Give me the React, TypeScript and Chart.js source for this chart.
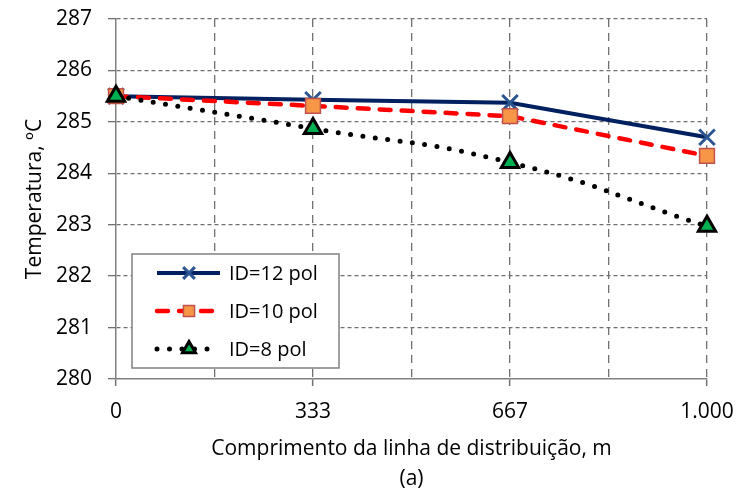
import React, { useEffect, useRef } from 'react';
import { Chart, registerables } from 'chart.js';

Chart.register(...registerables);

// ---- Data ----
const xValues = [0, 333.33, 666.67, 1000];
const id12 = [285.5, 285.43, 285.37, 284.7];
const id10 = [285.5, 285.31, 285.11, 284.34];
const id8 = [285.5, 284.87, 284.21, 282.97];
const seriesNames = ['ID=12 pol', 'ID=10 pol', 'ID=8 pol'];
const xGridValues = [0, 166.67, 333.33, 500, 666.67, 833.33, 1000];
const xTickLabels = ['0', '', '333', '', '667', '', '1.000'];
const yMin = 280;
const yMax = 287;
const xTitle = ['Comprimento da linha de distribuição, m', '(a)'];
const yTitle = 'Temperatura, ºC';

const FONT = "'Open Sans', 'DejaVu Sans', sans-serif";
const GRID = '#707070';
const CLEAR = 'rgba(0,0,0,0)';
const FS = 21;

type Style = {
  line: string;
  width: number;
  dash: number[];
  cap: CanvasLineCap;
  tension: number;
  point: 'crossRot' | 'rect' | 'triangle';
  radius: number;
  pFill: string;
  pStroke: string;
  pWidth: number;
};

const styles: Style[] = [
  { line: '#002060', width: 4, dash: [], cap: 'butt', tension: 0, point: 'crossRot', radius: 11, pFill: '#2a5590', pStroke: '#2a5590', pWidth: 3 },
  { line: '#ff0000', width: 4.5, dash: [11, 11], cap: 'round', tension: 0, point: 'rect', radius: 10.5, pFill: '#f79646', pStroke: '#c0504d', pWidth: 1.5 },
  { line: '#000000', width: 5, dash: [0, 12.5], cap: 'round', tension: 0.5, point: 'triangle', radius: 10, pFill: '#00b050', pStroke: '#000000', pWidth: 3 },
];

const seriesValues = [id12, id10, id8];

function drawMarker(ctx: CanvasRenderingContext2D, s: Style, x: number, y: number, r: number) {
  ctx.save();
  ctx.setLineDash([]);
  ctx.lineWidth = s.pWidth;
  ctx.strokeStyle = s.pStroke;
  ctx.fillStyle = s.pFill;
  ctx.beginPath();
  if (s.point === 'crossRot') {
    const o = r * Math.SQRT1_2;
    ctx.moveTo(x - o, y - o);
    ctx.lineTo(x + o, y + o);
    ctx.moveTo(x + o, y - o);
    ctx.lineTo(x - o, y + o);
    ctx.stroke();
  } else if (s.point === 'rect') {
    const o = r * Math.SQRT1_2;
    ctx.rect(x - o, y - o, 2 * o, 2 * o);
    ctx.fill();
    ctx.stroke();
  } else {
    let a = 0;
    ctx.moveTo(x + Math.sin(a) * r, y - Math.cos(a) * r);
    a += (2 * Math.PI) / 3;
    ctx.lineTo(x + Math.sin(a) * r, y - Math.cos(a) * r);
    a += (2 * Math.PI) / 3;
    ctx.lineTo(x + Math.sin(a) * r, y - Math.cos(a) * r);
    ctx.closePath();
    ctx.fill();
    ctx.stroke();
  }
  ctx.restore();
}

const boxLegend = {
  id: 'boxLegend',
  afterDraw(chart: any) {
    const { ctx, chartArea } = chart;
    const left = chartArea.left + 16;
    const top = chartArea.bottom - 125;
    const w = 207;
    const h = 114;
    ctx.save();
    ctx.fillStyle = '#ffffff';
    ctx.fillRect(left, top, w, h);
    ctx.strokeStyle = '#808080';
    ctx.lineWidth = 1.5;
    ctx.strokeRect(left, top, w, h);
    seriesNames.forEach((name, i) => {
      const s = styles[i];
      const y = top + 19 + i * 38;
      const x0 = left + 25;
      const x1 = i === 2 ? left + 80 : left + 88;
      ctx.save();
      ctx.strokeStyle = s.line;
      ctx.lineWidth = s.width;
      ctx.lineCap = s.cap;
      ctx.setLineDash(s.dash);
      ctx.beginPath();
      ctx.moveTo(x0, y);
      ctx.lineTo(x1, y);
      ctx.stroke();
      ctx.restore();
      drawMarker(ctx, s, left + 57, y, s.radius * 0.75);
      ctx.fillStyle = '#000';
      ctx.font = `20px ${FONT}`;
      ctx.textBaseline = 'middle';
      ctx.textAlign = 'left';
      ctx.fillText(name, left + 97, y + 1);
    });
    ctx.restore();
  },
};

export default function App() {
  const ref = useRef<HTMLCanvasElement | null>(null);

  useEffect(() => {
    document.body.style.margin = '0';
    const canvas = ref.current;
    if (!canvas) return;
    const datasets = seriesNames.map((name, i) => {
      const s = styles[i];
      return {
        label: name,
        data: xValues.map((x, j) => ({ x, y: seriesValues[i][j] })),
        borderColor: s.line,
        backgroundColor: s.pFill,
        borderWidth: s.width,
        borderDash: s.dash,
        borderCapStyle: s.cap,
        tension: s.tension,
        pointStyle: s.point,
        pointRadius: s.radius,
        pointBackgroundColor: s.pFill,
        pointBorderColor: s.pStroke,
        pointBorderWidth: s.pWidth,
        fill: false,
        clip: false as const,
        order: 3 - i,
      };
    });

    const chart = new Chart(canvas, {
      type: 'line',
      data: { datasets },
      options: {
        animation: false,
        responsive: false,
        devicePixelRatio: 1,
        layout: { padding: { top: 19, right: 31, left: 0, bottom: 0 } },
        plugins: { legend: { display: false }, tooltip: { enabled: false } },
        scales: {
          x: {
            type: 'linear',
            min: 0,
            max: 1000,
            afterBuildTicks: (s: any) => {
              s.ticks = xGridValues.map((v) => ({ value: v }));
            },
            afterFit: (s: any) => {
              s.height = 115;
              s.paddingLeft = 0;
              s.paddingRight = 0;
            },
            ticks: {
              callback: (_v: any, i: number) => xTickLabels[i],
              font: { family: FONT, size: FS },
              color: '#000',
              padding: 13,
              maxRotation: 0,
              autoSkip: false,
            },
            grid: {
              color: (c: any) => (c.index === 0 ? CLEAR : GRID),
              lineWidth: 1.3,
              tickLength: 7,
              tickWidth: 1.5,
              tickColor: (c: any) => (c.index % 2 === 0 ? GRID : CLEAR),
              tickBorderDash: [],
            },
            border: { display: true, color: '#808080', width: 1.5, dash: [8, 6] },
            title: {
              display: true,
              text: xTitle,
              font: { family: FONT, size: FS, lineHeight: 1.43 },
              color: '#000',
              padding: { top: 0, bottom: 0 },
            },
          },
          y: {
            type: 'linear',
            min: yMin,
            max: yMax,
            afterFit: (s: any) => {
              s.width = 116;
              s.paddingTop = 0;
              s.paddingBottom = 0;
            },
            ticks: {
              stepSize: 1,
              font: { family: FONT, size: FS },
              color: '#000',
              padding: 16,
            },
            grid: {
              color: (c: any) => (c.index === 0 ? CLEAR : GRID),
              lineWidth: 1.3,
              tickLength: 8,
              tickWidth: 1.3,
              tickColor: GRID,
              tickBorderDash: [],
            },
            border: { display: true, color: '#808080', width: 1.5, dash: [4, 3] },
            title: {
              display: true,
              text: yTitle,
              font: { family: FONT, size: FS },
              color: '#000',
              padding: { top: 22, bottom: 0 },
            },
          },
        },
      },
      plugins: [boxLegend],
    } as any);

    return () => chart.destroy();
  }, []);

  return (
    <div style={{ width: 738, height: 494, background: '#fff' }}>
      <canvas ref={ref} width={738} height={494} style={{ display: 'block' }} />
    </div>
  );
}
